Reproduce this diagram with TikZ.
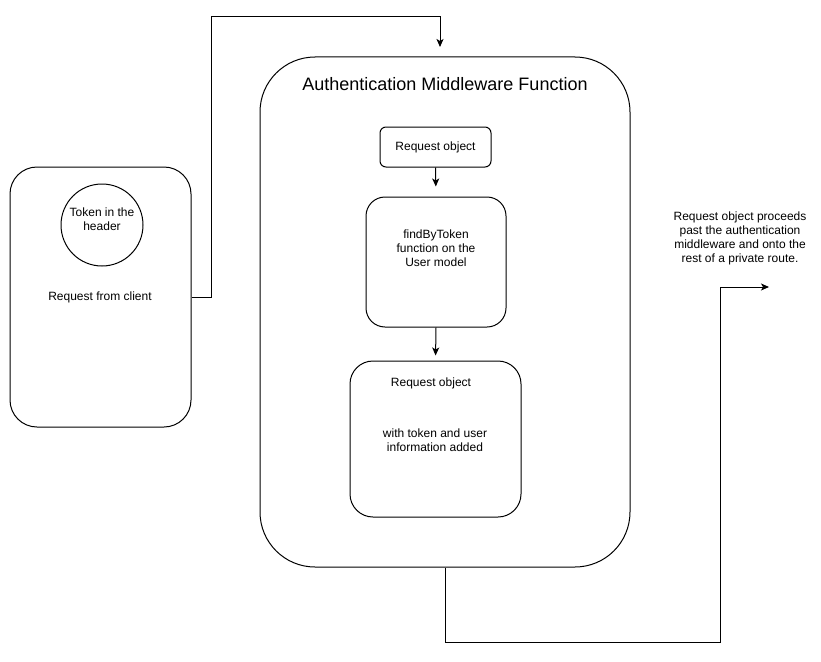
\documentclass[tikz,border=0pt]{standalone}
\usepackage{fontspec}
\setmainfont{Liberation Sans}
\usetikzlibrary{shapes, positioning, arrows.meta}

\tikzset{
    box/.style={draw, line width=1pt, rectangle, inner sep=0pt},
    txt/.style={align=center, inner sep=0pt, font=\fontsize{12}{14}\selectfont},
    >={Stealth[length=8pt, width=7pt, inset=2pt]}
}

\begin{document}
\begin{tikzpicture}[x=1pt, y=-1pt]
        \useasboundingbox (0, 0) rectangle (821, 661);

        % client side
        \node[box, rounded corners=27pt, minimum width=181pt, minimum height=260pt] (client) at (100.5, 297) {};
        \node[draw, line width=1pt, circle, minimum size=82pt, inner sep=0pt] (token) at (102, 225) {};
        \node[txt] (tokentxt) at (102, 219) {Token in the\\header};
        \node[txt] (clienttxt) at (100, 297) {Request from client};

        % middleware
        \node[box, rounded corners=55pt, minimum width=370pt, minimum height=510pt] (mw) at (445, 312) {};
        \node[txt, font=\fontsize{18}{21}\selectfont] (mwtxt) at (445, 84) {Authentication Middleware Function};
        \node[box, rounded corners=6pt, minimum width=111pt, minimum height=40pt] (req) at (435.5, 147) {};
        \node[txt] (reqtxt) at (435.5, 147) {Request object};
        \node[box, rounded corners=19pt, minimum width=140pt, minimum height=130pt] (find) at (436, 262) {};
        \node[txt] (findtxt) at (436, 248) {findByToken\\function on the\\User model};
        \node[box, rounded corners=23pt, minimum width=171pt, minimum height=156pt] (full) at (435.5, 439) {};
        \node[txt] (fulltxt) at (431, 383) {Request object};
        \node[txt] (infotxt) at (435, 440) {with token and user\\information added};

        % outcome
        \node[txt] (note) at (740, 238) {Request object proceeds\\past the authentication\\middleware and onto the\\rest of a private route.};

        \coordinate (up) at (211, 17);
        \coordinate (mwin) at (440, 47);
        \coordinate (down) at (720, 642);
        \coordinate (onward) at (769, 287);

        \draw[->, line width=1pt] (client.east) -| (up) -| (mwin);
        \draw[->, line width=1pt, shorten >=10pt] (req.south) -- (find.north);
        \draw[->, line width=1pt, shorten >=5pt] (find.south) -- (full.north);
        \draw[->, line width=1pt] (mw.south) |- (down) |- (onward);
    \end{tikzpicture}
\end{document}
